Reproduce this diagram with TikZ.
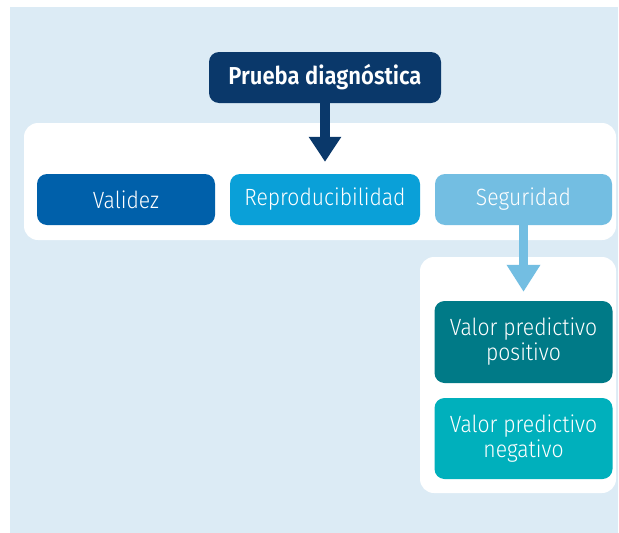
\documentclass[tikz,border=0pt]{standalone}
\usepackage{fontspec}
\setmainfont{Fira Sans Light}[FakeStretch=0.9,BoldFont={Fira Sans SemiBold}]
\usetikzlibrary{arrows.meta,positioning}
\definecolor{DiagBack}{HTML}{DCEBF5}
\definecolor{DiagNavy}{HTML}{0A386A}
\definecolor{DiagBlue}{HTML}{0060AA}
\definecolor{DiagCyan}{HTML}{0AA0D8}
\definecolor{DiagSky}{HTML}{73BEE2}
\definecolor{DiagTeal}{HTML}{007A87}
\definecolor{DiagAqua}{HTML}{00B0BC}

\begin{document}
\begin{tikzpicture}[x=1pt,y=-1pt,>=Latex,
  box/.style={rectangle,rounded corners=10pt,minimum height=51pt,inner sep=0pt,
    text=white,align=center,font=\fontsize{23.5}{25}\selectfont},
  panel/.style={fill=white,rounded corners=14pt}]
  \useasboundingbox (0,0) rectangle (619,533);
  \fill[DiagBack] (10,7) rectangle (618,533);
  \fill[panel] (24,123) rectangle (616,240);
  \fill[panel] (420,257) rectangle (616,493);
  \node[box,fill=DiagNavy,minimum width=232pt,
    font=\fontsize{24.5}{25}\selectfont\bfseries] (prueba) at (325,77.5) {Prueba diagnóstica};
  \node[box,fill=DiagBlue,minimum width=178pt] (validez) at (126,199.5) {Validez};
  \node[box,fill=DiagCyan,minimum width=190pt] (repro) at (325,199.5) {Reproducibilidad};
  \node[box,fill=DiagSky,minimum width=177pt] (seguridad) at (523.5,199.5) {Seguridad};
  \node[box,fill=DiagTeal,minimum width=178pt,minimum height=82pt] (vpp) at (523.5,342) {Valor predictivo\\positivo};
  \node[box,fill=DiagAqua,minimum width=178pt,minimum height=81pt] (vpn) at (523.5,438.5) {Valor predictivo\\negativo};
  \draw[-{Triangle[length=25pt,width=31pt]},line width=10pt,DiagNavy,shorten >=12pt] (prueba) -- (repro);
  \draw[-{Triangle[length=27pt,width=32pt]},line width=9pt,DiagSky,shorten >=9pt] (seguridad) -- (vpp);
\end{tikzpicture}
\end{document}
